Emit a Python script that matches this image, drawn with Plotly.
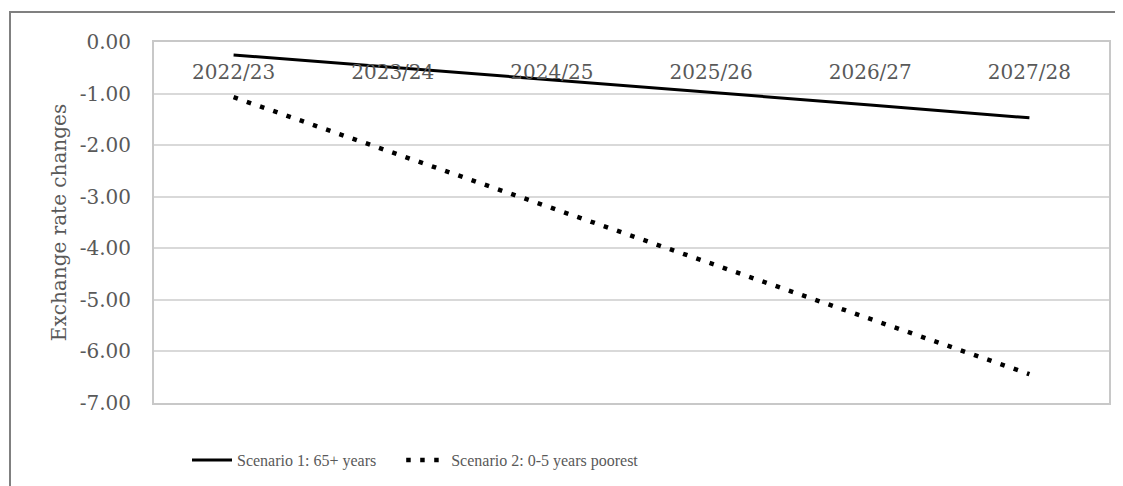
import plotly.graph_objects as go

years = ["2022/23", "2023/24", "2024/25", "2025/26", "2026/27", "2027/28"]
scenario1 = [-0.25, -0.49, -0.73, -0.98, -1.22, -1.47]
scenario2 = [-1.07, -2.15, -3.22, -4.30, -5.37, -6.44]
name1 = "Scenario 1: 65+ years"
name2 = "Scenario 2: 0-5 years poorest"
y_tickvals = [0, -1, -2, -3, -4, -5, -6, -7]
y_ticktext = ["0.00", "-1.00", "-2.00", "-3.00", "-4.00", "-5.00", "-6.00", "-7.00"]
y_title = "Exchange rate changes"

OFF = 8  # page body margin
W, H = 1123 - OFF, 486 - OFF
L, R, T, B = 154 - OFF, 14, 42 - OFF, 83
pw, ph = W - L - R, H - T - B

def px(x):
    return (x - OFF - L) / pw

def py(y):
    return (H - B - (y - OFF)) / ph

fig = go.Figure()
fig.add_trace(go.Scatter(x=years, y=scenario1, name=name1 + "\u00a0" * 5, mode="lines",
                         line=dict(color="black", width=3)))
fig.add_trace(go.Scatter(x=years, y=scenario2, name=name2, mode="lines",
                         line=dict(color="black", width=4.5, dash="4.5px,9.5px")))

tick_font = dict(family="DejaVu Serif", size=20, color="#595959")

fig.update_layout(
    width=W, height=H,
    margin=dict(l=L, r=R, t=T, b=B, autoexpand=False),
    paper_bgcolor="white", plot_bgcolor="white",
    showlegend=True,
    legend=dict(orientation="h", x=px(187), xanchor="left", y=py(460), yanchor="middle",
                font=dict(family="Liberation Serif", size=16, color="#595959"),
                itemwidth=40, bgcolor="rgba(0,0,0,0)"),
    xaxis=dict(type="category", range=[-0.5, 5.5], side="top", ticklabelposition="inside",
               tickfont=tick_font, showgrid=False, zeroline=False,
               showline=True, mirror=True, linecolor="#c8c8c8", linewidth=2,
               ticks="", ticklabelstandoff=24, ticklabeloverflow="allow", automargin=False),
    yaxis=dict(range=[-7, 0], tickvals=y_tickvals, ticktext=y_ticktext,
               tickfont=tick_font, showgrid=True, gridcolor="#d9d9d9", gridwidth=1.5,
               zeroline=False, showline=True, mirror=True, linecolor="#c8c8c8", linewidth=2,
               ticks="", ticklabelstandoff=17, ticklabeloverflow="allow", automargin=False,
               title=dict(text=y_title, font=tick_font, standoff=8)),
    shapes=[dict(type="rect", xref="paper", yref="paper",
                 x0=px(10), x1=px(1140), y0=py(500), y1=py(12),
                 line=dict(color="#808080", width=2), fillcolor="rgba(0,0,0,0)",
                 layer="below")],
)

fig.write_html("out.html")
